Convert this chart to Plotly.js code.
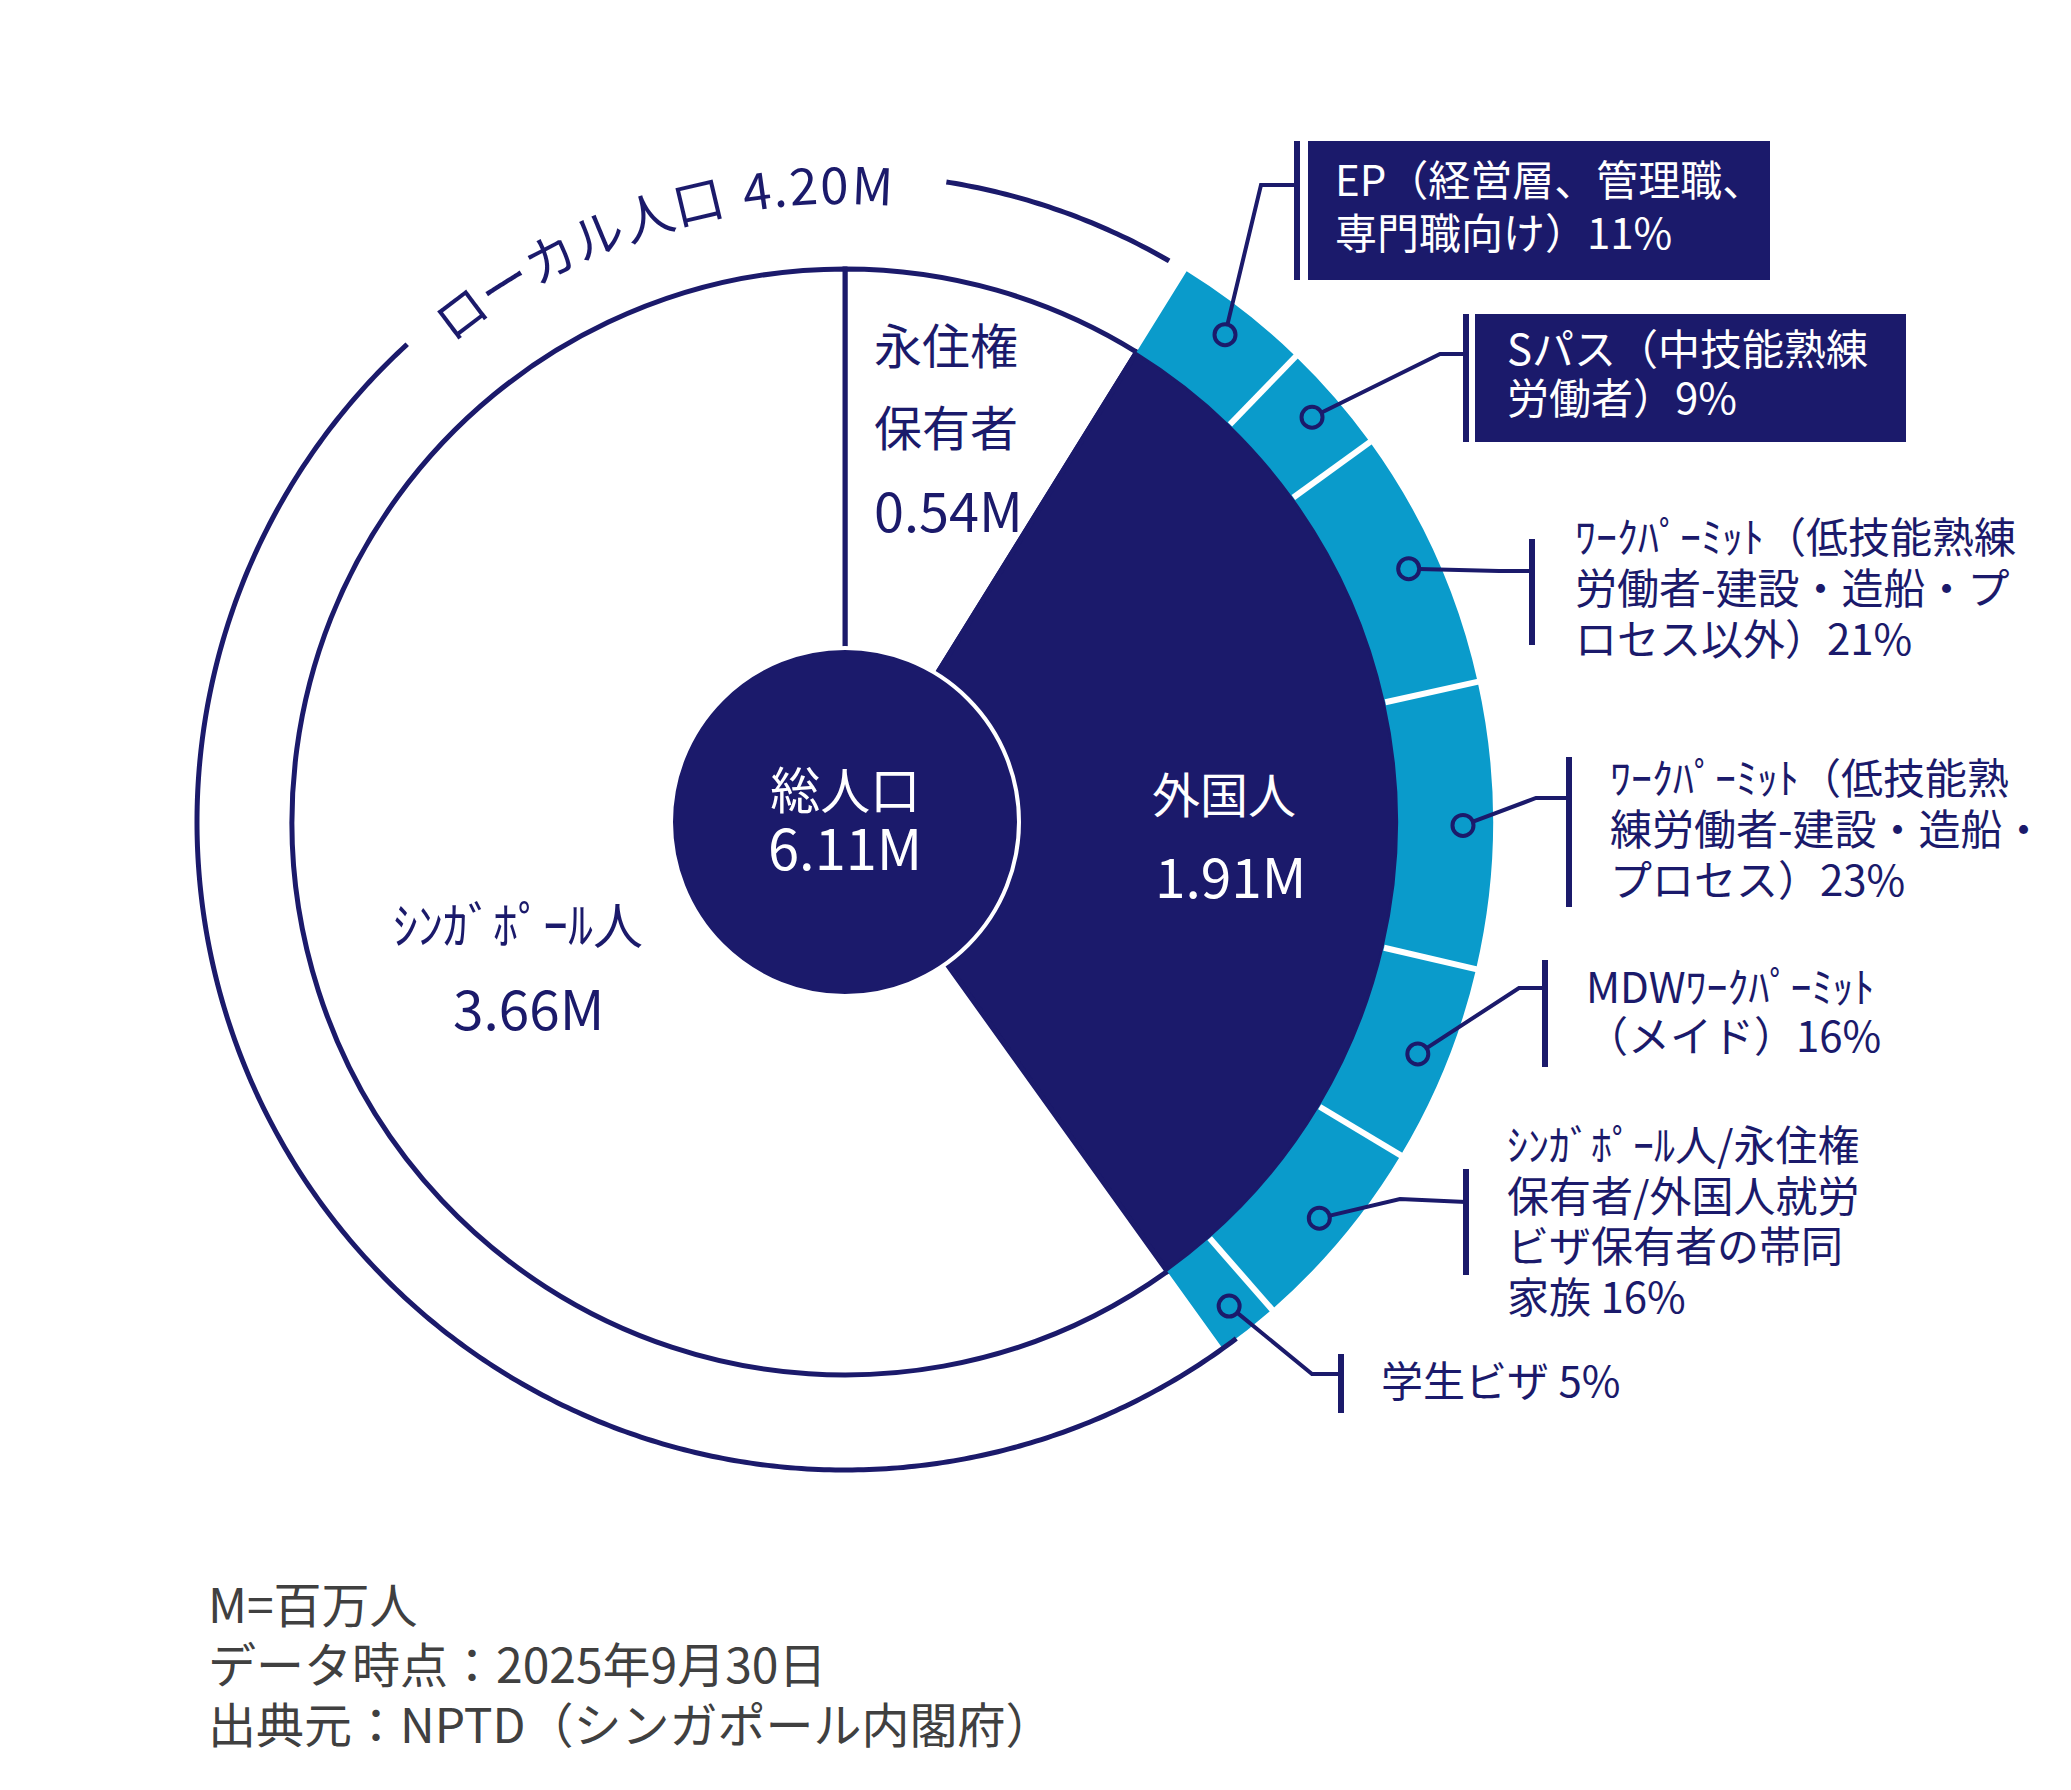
<!DOCTYPE html>
<html>
<head>
<meta charset="utf-8">
<script src="https://cdn.plot.ly/plotly-3.0.1.min.js"></script>
<style>html,body{margin:0;padding:0;background:#fff}#chart{width:2071px;height:1790px}</style>
</head>
<body>
<div id="chart"></div>
<script>
// ---------------- data ----------------
const totalPopulation = 6.11;          // 百万人
const localPopulation = 4.20;          // 百万人
const totalLabel = '総人口';
const localLabel = 'ローカル人口';
const populationCategories = ['永住権保有者', '外国人', 'シンガポール人'];
const populationValues = [0.54, 1.91, 3.66];
const populationLabelLines = [['永住権', '保有者'], ['外国人'], ['ｼﾝｶﾞﾎﾟｰﾙ人']];
const foreignCategories = [
  'EP（経営層、管理職、<br>専門職向け）',
  'Sパス（中技能熟練<br>労働者）',
  'ﾜｰｸﾊﾟｰﾐｯﾄ（低技能熟練<br>労働者-建設・造船・プ<br>ロセス以外）',
  'ﾜｰｸﾊﾟｰﾐｯﾄ（低技能熟<br>練労働者-建設・造船・<br>プロセス）',
  'MDWﾜｰｸﾊﾟｰﾐｯﾄ<br>（メイド）',
  'ｼﾝｶﾞﾎﾟｰﾙ人/永住権<br>保有者/外国人就労<br>ビザ保有者の帯同<br>家族 ',
  '学生ビザ '
];
const foreignPercents = [11, 9, 21, 23, 16, 16, 5];
const footnotes = ['M=百万人', 'データ時点：2025年9月30日', '出典元：NPTD（シンガポール内閣府）'];

// ---------------- style / layout ----------------
const NAVY = '#1b1a6b', BLUE = '#0a9bcb', GRAY = '#404040';
const FONT = '"Noto Sans CJK JP", "Noto Sans", sans-serif';
const W = 2071, H = 1790;
const CX = 845, CY = 822, RMAX = 800;
const R_CORE = 176, R_PIE = 553, R_RING = 648, R_MARK = 618, R_TEXT = 640;
const LINE_SPACING = 1.3;  // Plotly's multi-line spacing factor
const pieColors = ['#ffffff', NAVY, '#ffffff'];
const pieLabelPos = [
  {xs: [872, 872, 872], ys: [343, 425, 508], anchor: 'left', color: NAVY, sizes: [48, 48, 54]},
  {xs: [1224, 1231], ys: [792, 874], anchor: 'center', color: '#ffffff', sizes: [48, 55]},
  {xs: [518, 529], ys: [922, 1006], anchor: 'center', color: NAVY, sizes: [50, 55]}
];
const corePos = {x: CX, y1: 788, dy: 61, sizes: [50, 56]};
const ringLabelPos = [
  {x: 1334, y: 178, dy: 53, color: '#ffffff', box: [1308, 141, 1770, 280], bar: [1297, 141, 280], elbow: [1261, 185], join: [1297, 185]},
  {x: 1506, y: 347, dy: 49, color: '#ffffff', box: [1475, 314, 1906, 442], bar: [1466, 314, 442], elbow: [1440, 354], join: [1466, 354]},
  {x: 1574, y: 535, dy: 51, color: NAVY, bar: [1532, 539, 645], elbow: [1499, 571], join: [1532, 571]},
  {x: 1609, y: 775, dy: 51, color: NAVY, bar: [1569, 757, 907], elbow: [1536, 798], join: [1569, 798]},
  {x: 1585, y: 984, dy: 49, color: NAVY, bar: [1545, 960, 1067], elbow: [1519, 988], join: [1545, 988]},
  {x: 1506, y: 1143, dy: 50.5, color: NAVY, bar: [1466, 1169, 1275], elbow: [1400, 1199], join: [1466, 1202]},
  {x: 1380, y: 1378, dy: 51, color: NAVY, bar: [1341, 1354, 1413], elbow: [1312, 1374], join: [1341, 1374]}
];
const RING_FONT = 42;
const arcGap = [317.5, 369];
const arcTextCenter = -17.3;
const footPos = {x: 207, y1: 1602, dy: 60, size: 48};

// ---------------- helpers ----------------
const toPaperX = x => x / W;
const toPaperY = y => 1 - y / H;
const toPolar = (x, y) => { const dx = x - CX, dy = y - CY; return [Math.hypot(dx, dy), Math.atan2(dx, -dy) * 180 / Math.PI]; };
const polarPx = (r, th) => { const t = th * Math.PI / 180; return [CX + r * Math.sin(t), CY - r * Math.cos(t)]; };
const sized = (t, s) => '<span style="font-size:' + s + 'px">' + t + '</span>';

// ---------------- geometry from data ----------------
const popSpan = populationValues.map(v => v / totalPopulation * 360);
const popStart = []; let acc = 0;
popSpan.forEach(s => { popStart.push(acc); acc += s; });
const popCenter = popStart.map((s, i) => s + popSpan[i] / 2);

const fi = populationCategories.indexOf('外国人');
const pctSum = foreignPercents.reduce((a, b) => a + b, 0);
const ringSpan = foreignPercents.map(p => p / pctSum * popSpan[fi]);
const ringStart = []; let ra = popStart[fi];
ringSpan.forEach(s => { ringStart.push(ra); ra += s; });
const ringCenter = ringStart.map((s, i) => s + ringSpan[i] / 2);

// ---------------- traces ----------------
const pieTrace = {
  type: 'barpolar', r: populationValues.map(() => R_PIE), base: populationValues.map(() => 0),
  theta: popCenter, width: popSpan, name: '人口',
  marker: {color: pieColors, line: {color: NAVY, width: 5}}, hoverinfo: 'skip'
};
const ringTrace = {
  type: 'barpolar', r: ringSpan.map(() => R_RING - R_PIE), base: ringSpan.map(() => R_PIE),
  theta: ringCenter, width: ringSpan, name: '外国人内訳',
  marker: {color: BLUE, line: {width: 0}}, hoverinfo: 'skip'
};
// separators between ring segments
const sepR = [], sepT = [];
ringStart.slice(1).forEach(t => { sepR.push(R_PIE + 0.5, R_RING + 2, null); sepT.push(t, t, null); });
const sepTrace = {type: 'scatterpolar', mode: 'lines', r: sepR, theta: sepT, line: {color: '#ffffff', width: 6}, hoverinfo: 'skip', connectgaps: false};

// local population arc (citizens + PR)
const citIdx = populationCategories.indexOf('シンガポール人');
const localSpan = localPopulation / totalPopulation * 360;
const arcFrom = popStart[citIdx] - 1.5, arcTo = popStart[citIdx] + localSpan - 1.8;
const arcR = [], arcT = [];
for (let t = arcFrom; t <= arcTo + 1e-9; t += 0.5) {
  if (t > arcGap[0] && t < arcGap[1]) {
    if (arcT.length && arcT[arcT.length - 1] !== null) { arcR.push(R_RING); arcT.push(arcGap[0]); arcR.push(null); arcT.push(null); }
    continue;
  }
  if (arcT.length && arcT[arcT.length - 1] === null) { arcR.push(R_RING); arcT.push(arcGap[1]); }
  arcR.push(R_RING); arcT.push(t);
}
arcR.push(R_RING); arcT.push(arcTo);
const arcTrace = {type: 'scatterpolar', mode: 'lines', r: arcR, theta: arcT, line: {color: NAVY, width: 5}, hoverinfo: 'skip', connectgaps: false};

// leader lines
const leadR = [], leadT = [];
ringLabelPos.forEach((p, i) => {
  const pts = [[R_MARK, ringCenter[i]], toPolar(p.elbow[0], p.elbow[1]), toPolar(p.join[0], p.join[1])];
  pts.forEach(q => { leadR.push(q[0]); leadT.push(q[1]); });
  leadR.push(null); leadT.push(null);
});
const leadTrace = {type: 'scatterpolar', mode: 'lines', r: leadR, theta: leadT, line: {color: NAVY, width: 4}, hoverinfo: 'skip', connectgaps: false};

const markTrace = {
  type: 'scatterpolar', mode: 'markers', r: ringCenter.map(() => R_MARK), theta: ringCenter,
  marker: {size: 21, color: BLUE, line: {color: NAVY, width: 4}}, hoverinfo: 'skip'
};
const coreTrace = {
  type: 'scatterpolar', mode: 'markers', r: [0], theta: [0],
  marker: {size: 2 * R_CORE - 4, color: NAVY, line: {color: '#ffffff', width: 4}}, hoverinfo: 'skip'
};

// ---------------- annotations ----------------
const ann = [];
const addText = (text, x, y, size, color, xanchor, extra) => {
  ann.push(Object.assign({
    text: text, x: toPaperX(x), y: toPaperY(y), xref: 'paper', yref: 'paper',
    xanchor: xanchor || 'left', yanchor: 'middle', showarrow: false, align: xanchor || 'left',
    font: {family: FONT, size: size, color: color}
  }, extra || {}));
};
// multi-line block: base font controls line spacing, spans set the glyph size
const addBlock = (lines, x, y1, dy, glyphSizes, color, xanchor) => {
  const base = dy / LINE_SPACING;
  const text = lines.map((t, j) => sized(t, glyphSizes[j])).join('<br>');
  addText(text, x, y1 + (lines.length - 1) * dy / 2, base, color, xanchor, {borderpad: 0});
};

// pie labels (widely spaced lines)
populationLabelLines.forEach((lines, i) => {
  const p = pieLabelPos[i];
  const all = lines.concat([populationValues[i].toFixed(2) + 'M']);
  all.forEach((t, j) => addText(t, p.xs[j], p.ys[j], p.sizes[j], p.color, p.anchor));
});
// core
addBlock([totalLabel, totalPopulation.toFixed(2) + 'M'], corePos.x, corePos.y1, corePos.dy, corePos.sizes, '#ffffff', 'center');

// ring labels
foreignCategories.forEach((name, i) => {
  const p = ringLabelPos[i];
  const lines = (name + foreignPercents[i] + '%').split('<br>');
  addBlock(lines, p.x, p.y, p.dy, lines.map(() => RING_FONT), p.color, 'left');
});

// curved local population text
const arcText = localLabel + ' ' + localPopulation.toFixed(2) + 'M';
const AF = 51, TRACK = 2;
const adv = ch => {
  if (/[\u3000-\u30ff\u4e00-\u9fff\uff00-\uff5f]/.test(ch)) return 1.0 * AF;
  if (ch === ' ') return 0.3 * AF;
  if (ch === '.') return 0.28 * AF;
  if (ch === 'M') return 0.87 * AF;
  return 0.57 * AF;
};
const chars = Array.from(arcText);
const centers = []; let pos = 0;
chars.forEach(ch => { const w = adv(ch); centers.push(pos + w / 2); pos += w + TRACK; });
const mid = (centers[0] + centers[centers.length - 1]) / 2;
chars.forEach((ch, i) => {
  if (ch === ' ') return;
  const th = arcTextCenter + (centers[i] - mid) / R_TEXT * 180 / Math.PI;
  const [x, y] = polarPx(R_TEXT, th);
  addText(ch, x, y, AF, NAVY, 'center', {textangle: th, borderpad: 0});
});

// footnotes
addBlock(footnotes, footPos.x, footPos.y1, footPos.dy, footnotes.map(() => footPos.size), GRAY, 'left');

// ---------------- shapes (label boxes / brackets) ----------------
const shapes = [];
ringLabelPos.forEach(p => {
  if (p.box) {
    shapes.push({type: 'rect', xref: 'paper', yref: 'paper', layer: 'below',
      x0: toPaperX(p.box[0]), x1: toPaperX(p.box[2]), y0: toPaperY(p.box[3]), y1: toPaperY(p.box[1]),
      fillcolor: NAVY, line: {width: 0}});
  }
  shapes.push({type: 'line', xref: 'paper', yref: 'paper', layer: 'above',
    x0: toPaperX(p.bar[0]), x1: toPaperX(p.bar[0]), y0: toPaperY(p.bar[1]), y1: toPaperY(p.bar[2]),
    line: {color: NAVY, width: 6}});
});

const layout = {
  width: W, height: H, margin: {l: 0, r: 0, t: 0, b: 0},
  paper_bgcolor: '#ffffff', plot_bgcolor: '#ffffff', showlegend: false,
  font: {family: FONT},
  polar: {
    domain: {x: [(CX - RMAX) / W, (CX + RMAX) / W], y: [1 - (CY + RMAX) / H, 1 - (CY - RMAX) / H]},
    bgcolor: 'rgba(0,0,0,0)', hole: 0, barmode: 'overlay',
    radialaxis: {range: [0, RMAX], visible: false},
    angularaxis: {rotation: 90, direction: 'clockwise', showline: false, showgrid: false, showticklabels: false, ticks: ''}
  },
  shapes: shapes,
  annotations: ann
};

Plotly.newPlot('chart', [pieTrace, ringTrace, arcTrace, sepTrace, leadTrace, markTrace, coreTrace], layout,
  {staticPlot: true, displayModeBar: false});
</script>
</body>
</html>
